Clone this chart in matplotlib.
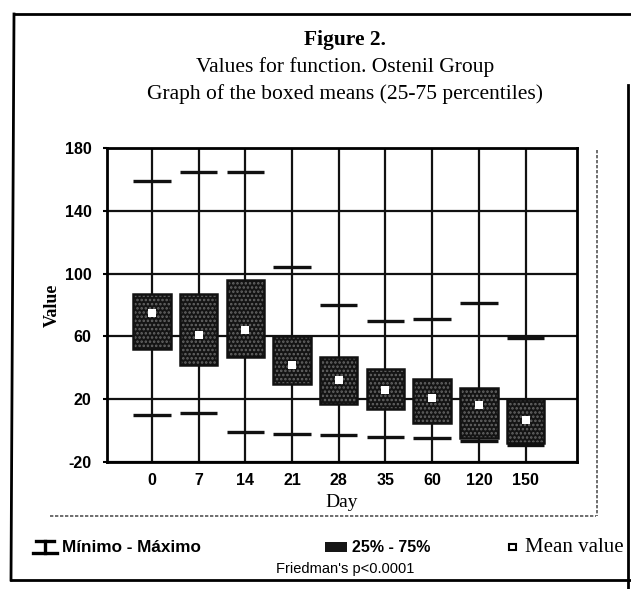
import numpy as np
import matplotlib.pyplot as plt
from matplotlib.lines import Line2D
from matplotlib.patches import Rectangle

# values
days = ['0', '7', '14', '21', '28', '35', '60', '120', '150']
maxs = [159, 165, 165, 104, 80, 70, 71, 81, 59]
mins = [10, 11, -1, -2, -3, -4, -5, -6.5, -9]
q75 = [87, 87, 96, 60, 47, 39, 33, 27, 20]
q25 = [52, 42, 47, 30, 17, 14, 5, -5, -8]
means = [75, 61, 64, 42, 32, 26, 21, 16, 7]

serif = 'Liberation Serif'
sans = 'Liberation Sans'
plt.rcParams['axes.unicode_minus'] = False
plt.rcParams['hatch.linewidth'] = 1.2

fig = plt.figure(figsize=(6.31, 5.89), dpi=100)
ax = fig.add_axes([107 / 631, 1 - 462 / 589, 470 / 631, 314 / 589])

x = np.arange(len(days))
q25 = np.array(q25)
q75 = np.array(q75)

# boxes: dark fill + grey stipple
ax.bar(x, q75 - q25, bottom=q25, width=0.8, color='#141414', zorder=3)
ax.bar(x, q75 - q25, bottom=q25, width=0.8, fill=False, hatch='....',
       edgecolor='#666666', linewidth=0, zorder=3.5)
ax.bar(x, q75 - q25, bottom=q25, width=0.8, fill=False,
       edgecolor='#111111', linewidth=1.8, zorder=3.6)

# min / max dashes
ax.hlines(maxs, x - 0.4, x + 0.4, color='#111111', linewidth=2.4, zorder=4)
ax.hlines(mins, x - 0.4, x + 0.4, color='#111111', linewidth=2.4, zorder=4)

# mean value
ax.plot(x, means, 's', color='white', markersize=5.5, markeredgewidth=0, zorder=5)

ax.set_xlim(-0.96, 9.1)
ax.set_ylim(-20, 180)
ax.set_yticks([-20, 20, 60, 100, 140, 180])
ax.set_xticks(x)
ax.set_xticklabels(days)
ax.grid(True, color='#111111', linewidth=1.6, zorder=1)
ax.set_axisbelow(True)
for s in ax.spines.values():
    s.set_linewidth(2)
ax.tick_params(axis='y', length=3, width=1.5, pad=8, labelsize=11.5)
ax.tick_params(axis='x', length=0, pad=8, labelsize=11.5)
for lab in ax.get_xticklabels() + ax.get_yticklabels():
    lab.set_fontfamily(sans)
    lab.set_fontweight('bold')

ax.set_xlabel('Day', fontfamily=serif, fontsize=14, labelpad=4)
ax.set_ylabel('Value', fontfamily=serif, fontsize=13, fontweight='bold', labelpad=3)

# titles
fig.text(345 / 631, 1 - 40 / 589, 'Figure 2.', ha='center', va='center',
         fontfamily=serif, fontweight='bold', fontsize=15.5)
fig.text(345 / 631, 1 - 67 / 589, 'Values for function. Ostenil Group',
         ha='center', va='center', fontfamily=serif, fontsize=15.5)
fig.text(345 / 631, 1 - 94 / 589, 'Graph of the boxed means (25-75 percentiles)',
         ha='center', va='center', fontfamily=serif, fontsize=15.5)


def px(xp, yp):
    return xp / 631, 1 - yp / 589


# frame lines
for (x0, y0), (x1, y1) in [((14, 14), (631, 14)), ((14, 14), (11, 580)),
                           ((11, 580), (631, 580)), ((628, 85), (628, 589))]:
    a, b = px(x0, y0)
    c, d = px(x1, y1)
    fig.add_artist(Line2D([a, c], [b, d], color='black', linewidth=2))
for (x0, y0), (x1, y1) in [((50, 516), (596, 516)), ((597, 150), (597, 516))]:
    a, b = px(x0, y0)
    c, d = px(x1, y1)
    fig.add_artist(Line2D([a, c], [b, d], color='#555555', linewidth=1.2,
                          linestyle=(0, (2, 1))))

# legend: min - max symbol
ly = 547
for (x0, y0), (x1, y1) in [((36, ly - 6), (54, ly - 6)), ((45, ly - 6), (45, ly + 6)),
                           ((33, ly + 6), (57, ly + 6))]:
    a, b = px(x0, y0)
    c, d = px(x1, y1)
    fig.add_artist(Line2D([a, c], [b, d], color='black', linewidth=2.4))
fig.text(*px(62, ly), 'Mínimo - Máximo', ha='left', va='center',
         fontfamily=sans, fontweight='bold', fontsize=12.3)

# legend: box
a, b = px(325, ly + 5)
fig.add_artist(Rectangle((a, b), 22 / 631, 10 / 589, transform=fig.transFigure,
                         facecolor='#161616', edgecolor='none'))
fig.text(*px(352, ly), '25% - 75%', ha='left', va='center',
         fontfamily=sans, fontweight='bold', fontsize=11.5)

# legend: mean value
a, b = px(509, ly + 3)
fig.add_artist(Rectangle((a, b), 7 / 631, 6 / 589, transform=fig.transFigure,
                         facecolor='white', edgecolor='black', linewidth=1.5))
fig.text(*px(525, ly + 1), 'Mean value', ha='left', va='center',
         fontfamily=serif, fontsize=15)

fig.text(*px(345, 569), "Friedman's p<0.0001", ha='center', va='center',
         fontfamily=sans, fontsize=10.5)

fig.savefig('out.png', dpi=100, facecolor='white')
